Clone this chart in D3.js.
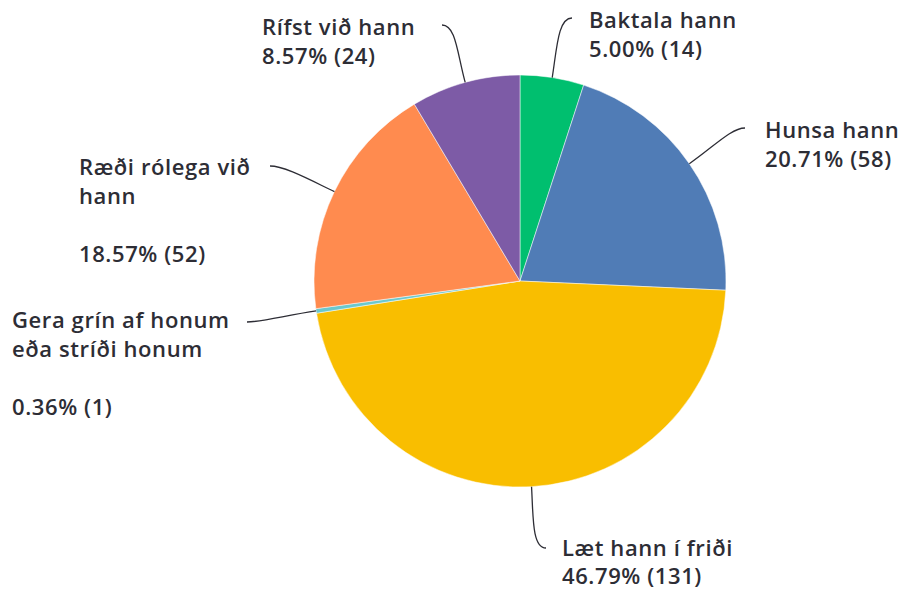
<!DOCTYPE html>
<html>
<head>
<meta charset="utf-8">
<script src="https://cdn.jsdelivr.net/npm/d3@7"></script>
<style>
  body { margin: 0; background: #fff; }
  text { font-family: "Open Sans", sans-serif; font-size: 22px; font-weight: 600; letter-spacing: 0.6px; fill: #2d2d35; }
</style>
</head>
<body>
<div id="chart"></div>
<script>
// answers, in clockwise order from 12 o'clock
var categories = ['Baktala hann', 'Hunsa hann', 'Læt hann í friði', 'Gera grín af honum eða stríði honum', 'Ræði rólega við hann', 'Rífst við hann'];
var counts = [14, 58, 131, 1, 52, 24];
var colors = ['#00bf6f', '#507cb6', '#f9be00', '#6bc8cd', '#ff8b4f', '#7d5ba6'];

// label text lines ('' = empty line) and where each label sits
var labelLines = [
    ['Baktala hann'],
    ['Hunsa hann'],
    ['Læt hann í friði'],
    ['Gera grín af honum', 'eða stríði honum', ''],
    ['Ræði rólega við', 'hann', ''],
    ['Rífst við hann']
];
var labelPos = [
    { x: 589, y: 28, ax: 572, ay: 18, dir: -1 },
    { x: 765, y: 138, ax: 745, ay: 128, dir: -1 },
    { x: 562, y: 556, ax: 546, ay: 548, dir: -1 },
    { x: 12, y: 328, ax: 247, ay: 322, dir: 1 },
    { x: 79, y: 175, ax: 270, ay: 166, dir: 1 },
    { x: 262, y: 35, ax: 442, ay: 25, dir: 1 }
];

var width = 909, height = 591;
var cx = 520, cy = 281, radius = 206;
var lineHeight = 29;

var total = d3.sum(counts);
var fmt = d3.format('.2%');

var svg = d3.select('#chart').append('svg')
    .attr('width', width)
    .attr('height', height);

var g = svg.append('g')
    .attr('transform', 'translate(' + cx + ',' + cy + ')');

var pie = d3.pie().sort(null).value(function (d) { return d; });
var arcs = pie(counts);
var arc = d3.arc().innerRadius(0).outerRadius(radius);

g.selectAll('.slice')
    .data(arcs)
    .enter().append('path')
    .attr('class', 'slice')
    .attr('d', arc)
    .style('fill', function (d, i) { return colors[i]; })
    .style('stroke', '#fff')
    .style('stroke-width', 0.5);

// leader lines: from the edge of the slice out to its label
g.selectAll('.leader')
    .data(arcs)
    .enter().append('path')
    .attr('class', 'leader')
    .attr('d', function (d, i) {
        var mid = (d.startAngle + d.endAngle) / 2;
        var px = radius * Math.sin(mid), py = -radius * Math.cos(mid);
        var c1x = (radius + 30) * Math.sin(mid), c1y = -(radius + 30) * Math.cos(mid);
        var p = labelPos[i];
        var lx = p.ax - cx, ly = p.ay - cy;
        var c2x = lx + p.dir * 14, c2y = ly;
        return 'M' + px + ',' + py + 'C' + c1x + ',' + c1y + ' ' + c2x + ',' + c2y + ' ' + lx + ',' + ly;
    })
    .style('fill', 'none')
    .style('stroke', '#2d2d35')
    .style('stroke-width', 1.3);

// labels
var labels = svg.selectAll('.label')
    .data(arcs)
    .enter().append('text')
    .attr('class', 'label')
    .attr('x', function (d, i) { return labelPos[i].x; })
    .attr('y', function (d, i) { return labelPos[i].y; });

labels.each(function (d, i) {
    var lines = labelLines[i].concat([fmt(counts[i] / total) + ' (' + counts[i] + ')']);
    var t = d3.select(this);
    lines.forEach(function (line, k) {
        t.append('tspan')
            .attr('x', labelPos[i].x)
            .attr('y', labelPos[i].y + k * (i === 2 ? 28 : lineHeight))
            .text(line);
    });
});
</script>
</body>
</html>
